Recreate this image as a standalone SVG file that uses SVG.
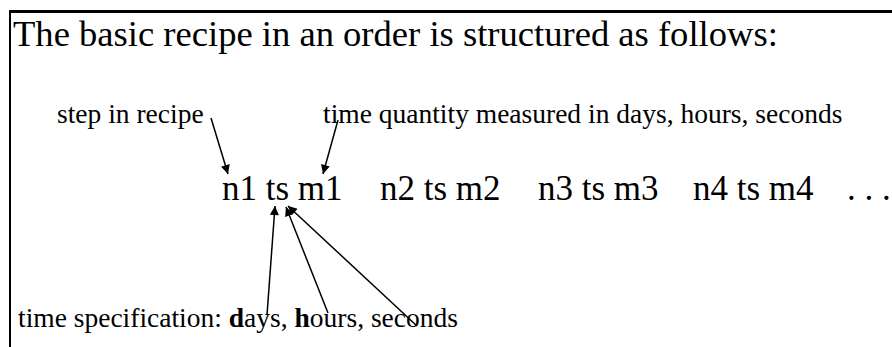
<svg xmlns="http://www.w3.org/2000/svg" width="892" height="347" viewBox="0 0 892 347">
<style>
text{font-family:"Liberation Serif","Times New Roman",serif;fill:#000}
.title{font-size:36.6px}
.lbl{font-size:27.5px}
.seq{font-size:35px}
.conn line{stroke:#000;stroke-width:1.5}
</style>
<defs>
<marker id="ah" viewBox="0 0 10 10" refX="10" refY="5" markerWidth="10" markerHeight="9" markerUnits="userSpaceOnUse" orient="auto">
<path d="M0,0 L10,5 L0,10 z" fill="#000"/>
</marker>
</defs>
<rect x="0" y="0" width="892" height="347" fill="#fff"/>
<g id="frame">
<line x1="9" y1="11.5" x2="892" y2="11.5" stroke="#000" stroke-width="3"/>
<line x1="10" y1="10" x2="10" y2="347" stroke="#000" stroke-width="2"/>
</g>
<g id="title"><text class="title" x="13" y="46">The basic recipe in an order is structured as follows:</text></g>
<g id="step-label"><text class="lbl" x="57" y="123">step in recipe</text></g>
<g id="quantity-label"><text class="lbl" x="323" y="123">time quantity measured in days, hours, seconds</text></g>
<g id="sequence">
<text class="seq" y="200"><tspan x="222">n1 ts m1</tspan><tspan x="380">n2 ts m2</tspan><tspan x="538">n3 ts m3</tspan><tspan x="693">n4 ts m4</tspan><tspan x="847">. . .</tspan></text>
</g>
<g id="spec-label"><text class="lbl" x="18" y="327">time specification: <tspan font-weight="bold">d</tspan>ays, <tspan font-weight="bold">h</tspan>ours, seconds</text></g>
<g id="connectors" class="conn">
<line x1="211" y1="118" x2="228" y2="174" marker-end="url(#ah)"/>
<line x1="338" y1="120" x2="323" y2="174" marker-end="url(#ah)"/>
<line x1="267" y1="315" x2="275" y2="206" marker-end="url(#ah)"/>
<line x1="328" y1="313" x2="286" y2="207" marker-end="url(#ah)"/>
<line x1="417" y1="326" x2="288" y2="206" marker-end="url(#ah)"/>
</g>
</svg>
